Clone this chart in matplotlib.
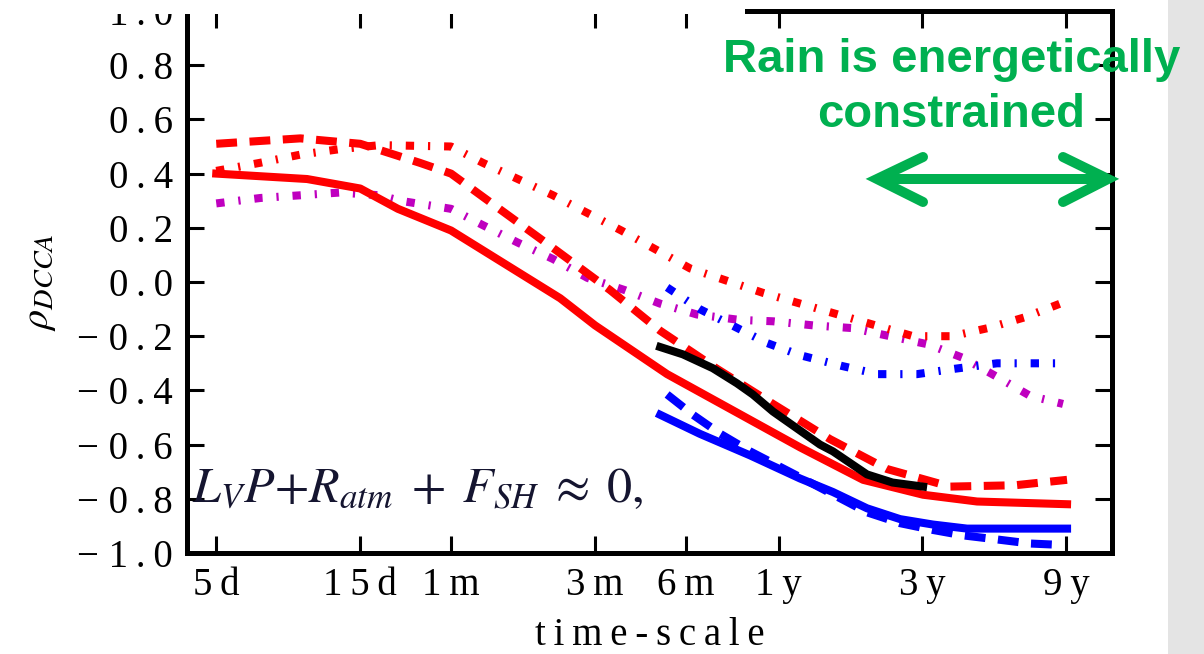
import matplotlib
matplotlib.use("Agg")
import matplotlib.pyplot as plt
from matplotlib.lines import Line2D
from matplotlib.patches import Rectangle
from matplotlib.ticker import FixedLocator, FuncFormatter, NullLocator

W, H = 1204, 654

# Time-scale ticks (days)
tick_days = [5, 15, 30, 90, 180, 365, 1095, 3285]
tick_names = ["5d", "15d", "1m", "3m", "6m", "1y", "3y", "9y"]
y_ticks = [-1.0, -0.8, -0.6, -0.4, -0.2, 0.0, 0.2, 0.4, 0.6, 0.8, 1.0]

# rho_DCCA curves, x in days
red_solid_t = [5, 10, 15, 20, 30, 69, 90, 156, 430, 696, 1100, 1661, 3300]
red_solid_r = [0.40, 0.38, 0.345, 0.27, 0.19, -0.06, -0.16, -0.34, -0.61, -0.73, -0.785, -0.81, -0.82]

red_dash_t = [5, 9.5, 15, 23.6, 30, 44.6, 67.3, 101, 148, 228, 350, 541, 835, 1351, 2220, 3300]
red_dash_r = [0.51, 0.53, 0.51, 0.44, 0.40, 0.26, 0.115, -0.03, -0.18, -0.32, -0.45, -0.58, -0.69, -0.755, -0.75, -0.73]

red_dot_t = [5, 7, 9.5, 12.8, 17.4, 30, 38.2, 65.3, 110, 186, 324, 575, 1019, 1372, 1806, 2394, 3300]
red_dot_r = [0.41, 0.44, 0.47, 0.49, 0.505, 0.50, 0.44, 0.32, 0.19, 0.05, -0.04, -0.12, -0.20, -0.20, -0.17, -0.13, -0.07]

mag_dot_t = [5, 7, 9.5, 12.8, 17.4, 20.3, 30, 38.2, 50, 65.3, 85, 113, 148, 196, 272, 350, 475, 639,
             855, 1142, 1492, 1934, 2488, 3200]
mag_dot_r = [0.29, 0.31, 0.32, 0.33, 0.32, 0.30, 0.27, 0.21, 0.145, 0.085, 0.015, -0.03, -0.08, -0.12,
             -0.14, -0.145, -0.16, -0.17, -0.20, -0.23, -0.28, -0.35, -0.42, -0.45]

blue_dot_t = [156, 200, 256, 334, 430, 593, 780, 1050, 1404, 1934, 2545, 3130]
blue_dot_r = [-0.02, -0.10, -0.16, -0.225, -0.27, -0.31, -0.34, -0.34, -0.32, -0.30, -0.30, -0.30]

black_t = [148, 176, 221, 266, 300, 350, 420, 501, 553, 717, 871, 1100]
black_r = [-0.24, -0.267, -0.318, -0.374, -0.415, -0.478, -0.54, -0.60, -0.625, -0.71, -0.74, -0.755]

blue_solid_t = [148, 200, 294, 430, 553, 717, 923, 1186, 1539, 3300]
blue_solid_r = [-0.49, -0.56, -0.64, -0.725, -0.775, -0.835, -0.875, -0.895, -0.91, -0.91]

blue_dash_t = [156, 190, 234, 294, 430, 717, 923, 1186, 1492, 1934, 2488, 3130]
blue_dash_r = [-0.415, -0.49, -0.56, -0.625, -0.72, -0.85, -0.89, -0.915, -0.935, -0.95, -0.965, -0.97]

plt.rcParams["lines.scale_dashes"] = False
plt.rcParams["mathtext.fontset"] = "stix"

DASH = (0, (15, 9))
DOT = (0, (6, 10, 1.6, 10))
LW = 5.8
GREEN = "#00b050"


def spaced(s):
    return "\u2009".join(s)


def fx(x):
    return x / W


def fy(y):
    return 1 - y / H


fig = plt.figure(figsize=(W / 100, H / 100), dpi=100)
ax = fig.add_axes([187 / W, (H - 553) / H, 925 / W, 542 / H])

ax.plot(mag_dot_t, mag_dot_r, color="#bf00bf", lw=LW, ls=DOT)
ax.plot(red_dot_t, red_dot_r, color="red", lw=LW, ls=DOT)
ax.plot(blue_dot_t, blue_dot_r, color="blue", lw=LW, ls=DOT)
ax.plot(red_dash_t, red_dash_r, color="red", lw=LW, ls=DASH)
ax.plot(red_solid_t, red_solid_r, color="red", lw=LW)
ax.plot(blue_dash_t, blue_dash_r, color="blue", lw=LW, ls=DASH)
ax.plot(blue_solid_t, blue_solid_r, color="blue", lw=LW)
ax.plot(black_t, black_r, color="black", lw=LW)

ax.set_xscale("log")
ax.set_xlim(4.0, 4650)
ax.set_ylim(-1.0, 1.0)
ax.xaxis.set_major_locator(FixedLocator(tick_days))
ax.xaxis.set_minor_locator(NullLocator())
ax.xaxis.set_major_formatter(FuncFormatter(lambda v, p: spaced(tick_names[p]) if p < len(tick_names) else ""))
ax.yaxis.set_major_locator(FixedLocator(y_ticks))


def yfmt(v, p):
    s = spaced(f"{abs(v):.1f}")
    return ("\u2212 " + s) if v < -1e-9 else s


ax.yaxis.set_major_formatter(FuncFormatter(yfmt))

for sp in ax.spines.values():
    sp.set_linewidth(3.6)
ax.tick_params(which="major", direction="in", length=12, width=2.2, top=True, right=True,
               pad=10, labelsize=28)
for lab in ax.get_xticklabels() + ax.get_yticklabels():
    lab.set_fontfamily("Liberation Serif")

ax.set_xlabel(spaced("time-scale"), fontsize=28, family="Liberation Serif")
ax.xaxis.set_label_coords(0.5, -0.118)
ax.set_ylabel(r"$\rho_{DCCA}$", fontsize=29)
ax.yaxis.set_label_coords(-0.14, 0.5)

# energy balance note
ax.text(fx(192), fy(502), r"$L_V P{+}R_{atm}\;+\;F_{SH}\;\approx\;0,$", transform=fig.transFigure,
        fontsize=36, color="#151530", ha="left", va="baseline")

# cropped-off strip at the top left
fig.add_artist(Rectangle((0, fy(13.5)), fx(745), 13.5 / H, transform=fig.transFigure,
                         facecolor="white", edgecolor="none", zorder=10))
# grey side panel
fig.add_artist(Rectangle((fx(1168), 0), 1 - fx(1168), 1, transform=fig.transFigure,
                         facecolor="#e4e4e4", edgecolor="none", zorder=5))

fig.text(fx(952), fy(72), "Rain is energetically", fontsize=34, fontweight="bold",
         family="Liberation Sans", color=GREEN, ha="center", va="baseline", zorder=20)
fig.text(fx(951), fy(127), "constrained", fontsize=34, fontweight="bold",
         family="Liberation Sans", color=GREEN, ha="center", va="baseline", zorder=20)

# double-headed arrow
arrow_kw = dict(transform=fig.transFigure, color=GREEN, lw=7.2, solid_capstyle="round",
                solid_joinstyle="miter", zorder=20)
fig.add_artist(Line2D([fx(880), fx(1105)], [fy(179), fy(179)], **arrow_kw))
fig.add_artist(Line2D([fx(923), fx(877), fx(923)], [fy(157), fy(179), fy(202)], **arrow_kw))
fig.add_artist(Line2D([fx(1063), fx(1108), fx(1063)], [fy(157), fy(179), fy(202)], **arrow_kw))

fig.savefig("out.png", dpi=100)
